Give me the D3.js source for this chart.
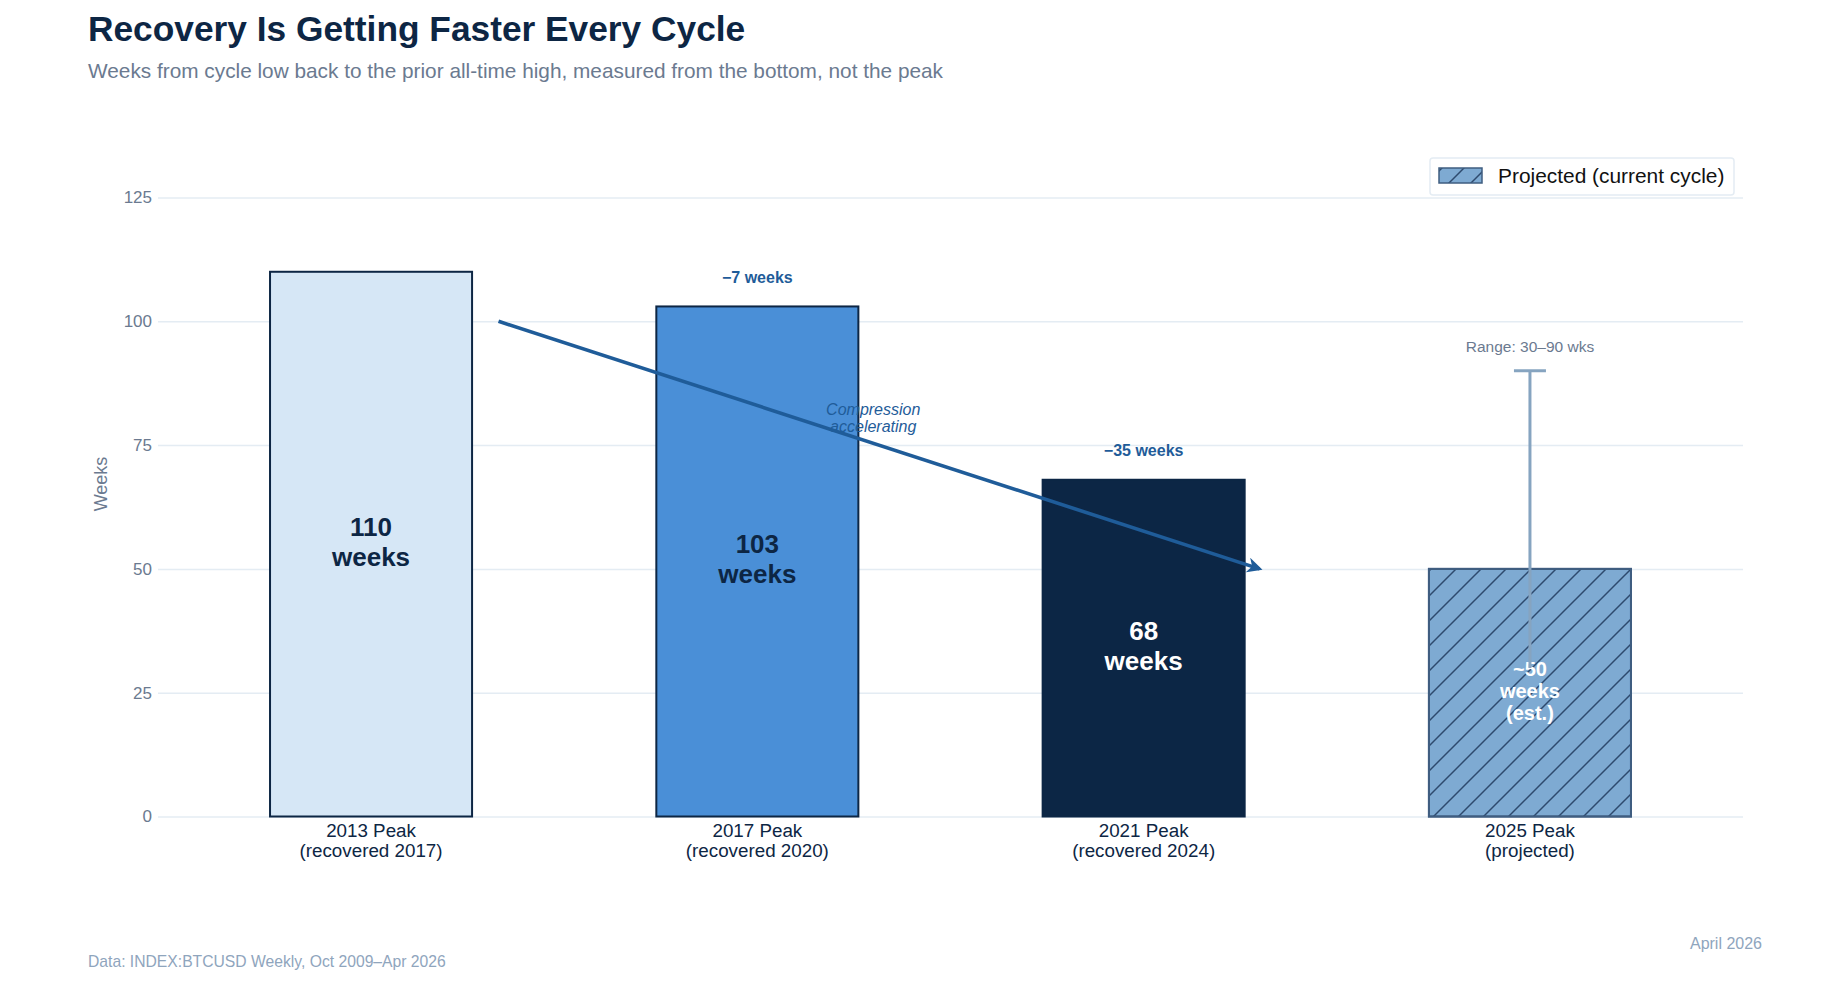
<!DOCTYPE html>
<html>
<head>
<meta charset="utf-8">
<script src="https://cdn.jsdelivr.net/npm/d3@7"></script>
<style>
  body { margin: 0; background: #fff; }
  text { font-family: "Liberation Sans", Arial, sans-serif; }
</style>
</head>
<body>
<div id="chart"></div>
<script>
'use strict'

// chart data
const cycles = ['2013 Peak', '2017 Peak', '2021 Peak', '2025 Peak']
const cycleNotes = ['(recovered 2017)', '(recovered 2020)', '(recovered 2024)', '(projected)']
const weeks = [110, 103, 68, 50]
const barLabels = [['110', 'weeks'], ['103', 'weeks'], ['68', 'weeks'], ['~50', 'weeks', '(est.)']]
const deltas = [null, '\u22127 weeks', '\u221235 weeks', null]
const projectedRange = [30, 90]
const yTicks = [0, 25, 50, 75, 100, 125]

const W = 1830
const H = 993

const fills = ['#d6e7f6', '#4a8fd7', '#0c2645', '#7eaad2']
const strokes = ['#0d2644', '#0d2644', '#0c2645', '#3f5d80']
const inkDark = '#0d2644'
const accent = '#1f5c99'
const muted = '#6b7a90'

const plotLeft = 158
const plotRight = 1743

const svg = d3.select('#chart')
  .append('svg')
    .attr('width', W)
    .attr('height', H)

// hatch pattern for the projected bar
const defs = svg.append('defs')
defs.append('pattern')
    .attr('id', 'hatch')
    .attr('patternUnits', 'userSpaceOnUse')
    .attr('width', 25)
    .attr('height', 25)
  .append('path')
    .attr('d', 'M-6.25,6.25 l12.5,-12.5 M0,25 l25,-25 M18.75,31.25 l12.5,-12.5')
    .attr('stroke', '#2e4a6e')
    .attr('stroke-width', 1.5)

defs.append('pattern')
    .attr('id', 'hatchSmall')
    .attr('patternUnits', 'userSpaceOnUse')
    .attr('width', 22)
    .attr('height', 22)
  .append('path')
    .attr('d', 'M-5.5,5.5 l11,-11 M0,22 l22,-22 M16.5,27.5 l11,-11')
    .attr('stroke', '#2e4a6e')
    .attr('stroke-width', 1.5)

defs.append('marker')
    .attr('id', 'arrowhead')
    .attr('viewBox', '0 0 10 10')
    .attr('refX', 8)
    .attr('refY', 5)
    .attr('markerWidth', 4.3)
    .attr('markerHeight', 4.3)
    .attr('orient', 'auto')
  .append('path')
    .attr('d', 'M0,0 L10,5 L0,10 L3,5 Z')
    .attr('fill', accent)

// titles
svg.append('text')
    .attr('x', 88)
    .attr('y', 41)
    .attr('font-size', 35.3)
    .attr('font-weight', 'bold')
    .attr('fill', inkDark)
    .text('Recovery Is Getting Faster Every Cycle')

svg.append('text')
    .attr('x', 88)
    .attr('y', 78)
    .attr('font-size', 20.8)
    .attr('fill', muted)
    .text('Weeks from cycle low back to the prior all-time high, measured from the bottom, not the peak')

// scales
const x = d3.scaleBand()
  .domain(cycles)
  .range([plotLeft, plotRight])
  .paddingInner(0.477)
  .paddingOuter(0.29)

const y = d3.scaleLinear()
  .domain([0, 125])
  .range([816.5, 197.5])

const cx = i => x(cycles[0]) + x.bandwidth() / 2 + i * x.step()

// gridlines + y axis
const yAxis = svg.append('g')
  .attr('transform', `translate(${plotLeft},0)`)
  .call(d3.axisLeft(y).tickValues(yTicks).tickSize(-(plotRight - plotLeft)).tickPadding(6))
yAxis.select('.domain').remove()
yAxis.selectAll('.tick line').attr('stroke', '#e4ecf3').attr('stroke-width', 1.5)
yAxis.selectAll('.tick text')
  .attr('font-size', 17)
  .attr('fill', muted)
  .attr('font-family', '"Liberation Sans", Arial, sans-serif')

svg.append('text')
    .attr('transform', 'translate(102,484) rotate(-90)')
    .attr('text-anchor', 'middle')
    .attr('dominant-baseline', 'middle')
    .attr('font-size', 18)
    .attr('fill', muted)
    .text('Weeks')

// bars
svg.selectAll('.bar')
  .data(weeks)
  .join('rect')
    .attr('class', 'bar')
    .attr('x', (d, i) => x(cycles[i]))
    .attr('y', d => y(d))
    .attr('width', x.bandwidth())
    .attr('height', d => y(0) - y(d))
    .attr('fill', (d, i) => fills[i])
    .attr('stroke', (d, i) => strokes[i])
    .attr('stroke-width', 2)

svg.append('rect')
    .attr('x', x(cycles[3]))
    .attr('y', y(weeks[3]))
    .attr('width', x.bandwidth())
    .attr('height', y(0) - y(weeks[3]))
    .attr('fill', 'url(#hatch)')
    .attr('stroke', strokes[3])
    .attr('stroke-width', 2)

// x axis labels
const xAxis = svg.append('g')
  .attr('transform', `translate(0,${y(0)})`)
  .call(d3.axisBottom(x).tickSize(0).tickFormat(''))
xAxis.select('.domain').remove()

cycles.forEach((c, i) => {
  const t = svg.append('text')
      .attr('x', cx(i))
      .attr('y', 836.5)
      .attr('text-anchor', 'middle')
      .attr('font-size', 18.8)
      .attr('fill', inkDark)
  t.append('tspan').attr('x', cx(i)).text(c)
  t.append('tspan').attr('x', cx(i)).attr('dy', 20).text(cycleNotes[i])
})

// value labels inside bars
barLabels.forEach((lines, i) => {
  const small = lines.length > 2
  const fs = small ? 20 : 26
  const lh = small ? 22 : 30
  const mid = y(weeks[i] / 2)
  const t = svg.append('text')
      .attr('text-anchor', 'middle')
      .attr('font-size', fs)
      .attr('font-weight', 'bold')
      .attr('fill', i < 2 ? inkDark : '#ffffff')
  lines.forEach((l, k) => {
    t.append('tspan')
        .attr('x', cx(i))
        .attr('y', mid + (k - (lines.length - 1) / 2) * lh)
        .attr('dominant-baseline', 'middle')
        .text(l)
  })
})

// delta labels above bars
deltas.forEach((d, i) => {
  if (!d) return
  svg.append('text')
      .attr('x', cx(i))
      .attr('y', y(weeks[i] + 5.6))
      .attr('text-anchor', 'middle')
      .attr('dominant-baseline', 'middle')
      .attr('font-size', 16)
      .attr('font-weight', 'bold')
      .attr('fill', accent)
      .text(d)
})

// projected range whisker
const ex = cx(3)
svg.append('line')
    .attr('x1', ex).attr('x2', ex)
    .attr('y1', y(projectedRange[0])).attr('y2', y(projectedRange[1]))
    .attr('stroke', '#86a4c0')
    .attr('stroke-width', 3)
svg.append('line')
    .attr('x1', ex - 16).attr('x2', ex + 16)
    .attr('y1', y(projectedRange[1])).attr('y2', y(projectedRange[1]))
    .attr('stroke', '#86a4c0')
    .attr('stroke-width', 3)
svg.append('text')
    .attr('x', ex)
    .attr('y', y(projectedRange[1] + 4.6))
    .attr('text-anchor', 'middle')
    .attr('dominant-baseline', 'middle')
    .attr('font-size', 15.5)
    .attr('fill', muted)
    .text(`Range: ${projectedRange[0]}\u2013${projectedRange[1]} wks`)

// trend arrow
const px = v => cx(0) + v * x.step()
svg.append('line')
    .attr('x1', px(0.33)).attr('y1', y(100))
    .attr('x2', px(2.3)).attr('y2', y(50))
    .attr('stroke', accent)
    .attr('stroke-width', 3.6)
    .attr('marker-end', 'url(#arrowhead)')

const note = svg.append('text')
    .attr('text-anchor', 'middle')
    .attr('font-size', 16)
    .attr('font-style', 'italic')
    .attr('fill', accent)
;['Compression', 'accelerating'].forEach((l, k) => {
  note.append('tspan')
      .attr('x', px(1.3))
      .attr('y', y(80.2) + (k - 0.5) * 16.5)
      .attr('dominant-baseline', 'middle')
      .text(l)
})

// legend
const lg = svg.append('g').attr('transform', 'translate(1430,158)')
lg.append('rect')
    .attr('width', 304).attr('height', 37)
    .attr('rx', 3)
    .attr('fill', '#fff')
    .attr('stroke', '#e4ecf3')
    .attr('stroke-width', 1.5)
lg.append('rect')
    .attr('x', 9).attr('y', 10)
    .attr('width', 43).attr('height', 15)
    .attr('fill', fills[3])
lg.append('rect')
    .attr('x', 9).attr('y', 10)
    .attr('width', 43).attr('height', 15)
    .attr('fill', 'url(#hatchSmall)')
    .attr('stroke', strokes[3])
    .attr('stroke-width', 1.5)
lg.append('text')
    .attr('x', 68).attr('y', 19)
    .attr('dominant-baseline', 'middle')
    .attr('font-size', 20.9)
    .attr('fill', '#111')
    .text('Projected (current cycle)')

// footer
svg.append('text')
    .attr('x', 88).attr('y', 963)
    .attr('dominant-baseline', 'middle')
    .attr('font-size', 15.7)
    .attr('fill', '#8fa5bd')
    .text('Data: INDEX:BTCUSD Weekly, Oct 2009\u2013Apr 2026')

svg.append('text')
    .attr('x', 1762).attr('y', 945)
    .attr('text-anchor', 'end')
    .attr('dominant-baseline', 'middle')
    .attr('font-size', 16)
    .attr('fill', '#8fa5bd')
    .text('April 2026')
</script>
</body>
</html>
